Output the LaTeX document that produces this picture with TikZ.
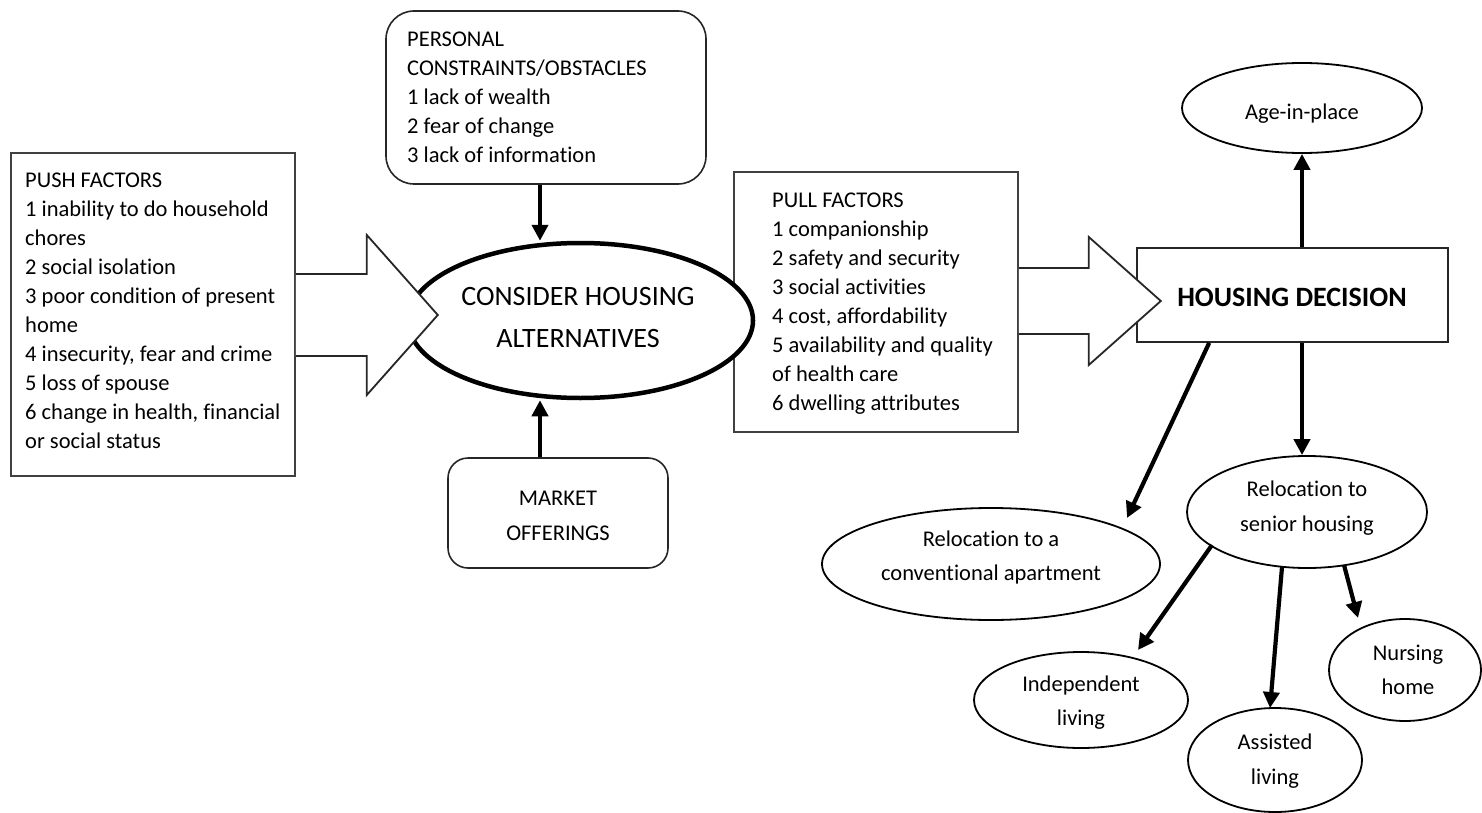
\documentclass[tikz,border=0pt]{standalone}
\usepackage{fontspec}
\setmainfont{Carlito}[Ligatures=NoCommon]
\usetikzlibrary{arrows.meta,shapes.geometric,calc}
\tikzset{
  txt/.style={inner sep=0pt, align=left, font=\fontsize{22.5}{29}\selectfont},
  ctxt/.style={inner sep=0pt, align=center, font=\fontsize{22.5}{34.5}\selectfont},
  sqbox/.style={draw=black!75, line width=1.6pt, inner sep=0pt},
  rbox/.style={draw=black!85, line width=1.6pt, inner sep=0pt, rounded corners=#1},
  ell/.style={ellipse, draw=black, line width=1.8pt, fill=white, inner sep=0pt},
  bigell/.style={ellipse, draw=black, line width=4.5pt, fill=white, inner sep=0pt},
  blockarrow/.style={draw=black!85, line width=1.8pt, fill=white, line join=miter},
  arr/.style={line width=4.2pt, draw=black, -{Triangle[length=16pt,width=16pt]}},
}
\begin{document}
\begin{tikzpicture}[x=1pt,y=-1pt]
\useasboundingbox (0,0) rectangle (1482,813);

% push factors
\node[sqbox, minimum width=284pt, minimum height=323pt] (push) at (153,314.5) {};
\node[txt, anchor=west] (pusht) at (25,311) {PUSH FACTORS\\1 inability to do household\\chores\\2 social isolation\\3 poor condition of present\\home\\4 insecurity, fear and crime\\5 loss of spouse\\6 change in health, financial\\or social status};

% personal constraints
\node[rbox=28pt, minimum width=320pt, minimum height=173pt] (pers) at (546,97.5) {};
\node[txt, anchor=west] (perst) at (407,97.5) {PERSONAL\\CONSTRAINTS/OBSTACLES\\1 lack of wealth\\2 fear of change\\3 lack of information};

% market offerings
\node[rbox=20pt, minimum width=220pt, minimum height=110pt] (mkt) at (558,513) {};
\node[ctxt] (mktt) at (558,516) {MARKET\\OFFERINGS};

% pull factors
\node[sqbox, minimum width=284pt, minimum height=260pt] (pull) at (876,302) {};
\node[txt, anchor=west] (pullt) at (772,303.5) {PULL FACTORS\\1 companionship\\2 safety and security\\3 social activities\\4 cost, affordability\\5 availability and quality\\of health care\\6 dwelling attributes};

% central ellipse
\node[bigell, minimum width=345pt, minimum height=155pt] (cons) at (580.5,320.5) {};
\node[inner sep=0pt, align=center, font=\fontsize{28}{42}\selectfont] (const) at (578,318) {CONSIDER HOUSING\\ALTERNATIVES};

% block arrows
\draw[blockarrow] ([yshift=40.5pt]push.east) -- ++(71,0) -- ++(0,-39) -- ++(71,80) -- ++(-71,80) -- ++(0,-39) -- ++(-71,0);

% housing decision
\node[sqbox, draw=black!85, minimum width=311pt, minimum height=94pt] (hd) at (1292.5,295) {};
\node[inner sep=0pt, font=\fontsize{28}{34}\selectfont\bfseries] (hdt) at (1292,297) {HOUSING DECISION};

\draw[blockarrow] ([yshift=34pt]pull.east) -- ++(70,0) -- ++(0,-31) -- ++(72,64) -- ++(-72,64) -- ++(0,-31) -- ++(-70,0);

% outcome ellipses
\node[ell, minimum width=240pt, minimum height=90pt] (age) at (1302,108) {};
\node[ctxt] (aget) at (1302,114) {Age-in-place};

\node[ell, minimum width=240pt, minimum height=112pt] (sen) at (1307,512) {};
\node[ctxt] (sent) at (1307,508) {Relocation to\\senior housing};

\node[ell, minimum width=338pt, minimum height=112pt] (conv) at (991,564) {};
\node[ctxt] (convt) at (991,557.5) {Relocation to a\\conventional apartment};

\node[ell, minimum width=214pt, minimum height=96pt] (ind) at (1081,700) {};
\node[ctxt] (indt) at (1081,702.5) {Independent\\living};

\node[ell, minimum width=174pt, minimum height=104pt] (ass) at (1275,760) {};
\node[ctxt] (asst) at (1275,761) {Assisted\\living};

\node[ell, minimum width=152pt, minimum height=102pt] (nur) at (1405,670) {};
\node[ctxt] (nurt) at (1408,670) {Nursing\\home};

% thick arrows
\draw[arr] ([xshift=-6pt]pers.south) -- ([xshift=-6pt]pers.south |- cons.north);
\draw[arr] ([xshift=-18pt]mkt.north) -- ([xshift=-18pt]mkt.north |- cons.south);
\draw[arr] (age.south |- hd.north) -- (age.south);
\draw[arr] ([xshift=9.5pt]hd.south) -- ([xshift=9.5pt]hd.south |- sen.north);
\draw[arr] ([xshift=73pt]hd.south west) -- ($(conv)+(136,-46)$);
\draw[arr] ($(sen)+(-95,33)$) -- ($(ind)+(57,-50)$);
\draw[arr] ($(sen)+(-25,55)$) -- ($(ass)+(-5,-52)$);
\draw[arr] ($(sen)+(37,53)$) -- ($(nur)+(-47,-52)$);
\end{tikzpicture}
\end{document}
